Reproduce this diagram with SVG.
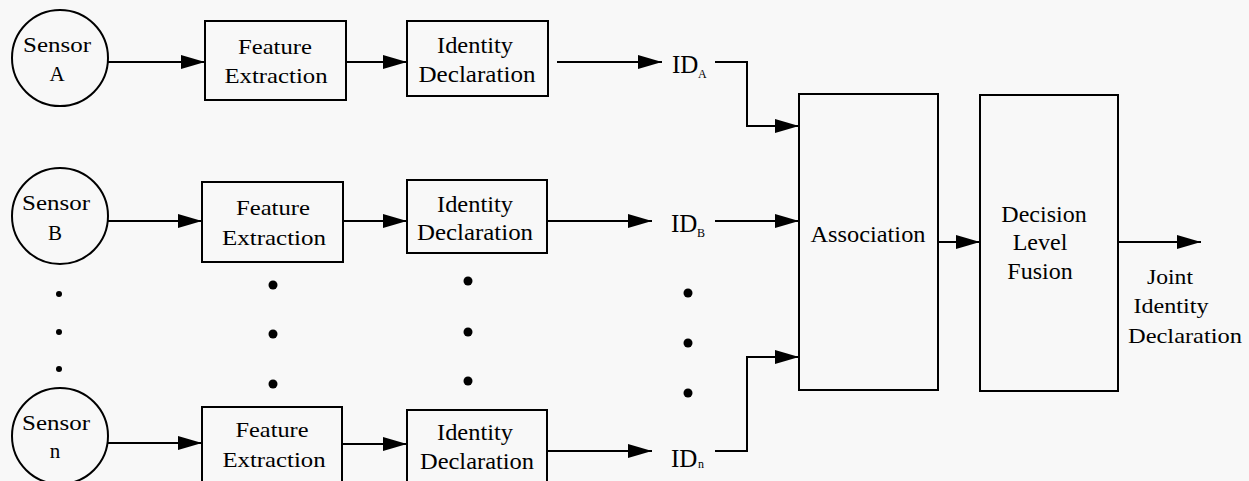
<svg xmlns="http://www.w3.org/2000/svg" width="1249" height="481" viewBox="0 0 1249 481">
  <defs>
    <marker id="arrow" markerUnits="userSpaceOnUse" markerWidth="24" markerHeight="14" refX="24" refY="7" orient="auto">
      <path d="M0,0 L24,7 L0,14 Z" fill="#000"/>
    </marker>
    <style>
      .bg { fill: #f8f8f8; }
      .box { fill: none; stroke: #000; stroke-width: 2; }
      .wire { fill: none; stroke: #000; stroke-width: 2; }
      .arrow { marker-end: url(#arrow); }
      .lbl { font-family: "Liberation Serif", "Times New Roman", serif; font-size: 24px; fill: #000; text-anchor: middle; }
      .sm { font-size: 21px; }
      .id { font-family: "Liberation Serif", "Times New Roman", serif; font-size: 25px; fill: #000; }
      .sub { font-family: "Liberation Serif", "Times New Roman", serif; font-size: 12px; fill: #000; }
      .dot { fill: #000; }
    </style>
  </defs>

  <rect class="bg" x="0" y="0" width="1249" height="481"/>

  <!-- sensors -->
  <g id="sensor-a">
    <circle class="box" cx="60" cy="58" r="48"/>
    <text class="lbl sm" x="57" y="52" textLength="68" lengthAdjust="spacingAndGlyphs">Sensor</text>
    <text class="lbl sm" x="57" y="81">A</text>
  </g>
  <g id="sensor-b">
    <circle class="box" cx="60" cy="216" r="48"/>
    <text class="lbl sm" x="56" y="210" textLength="68" lengthAdjust="spacingAndGlyphs">Sensor</text>
    <text class="lbl sm" x="55" y="240">B</text>
  </g>
  <g id="sensor-n">
    <circle class="box" cx="60" cy="436" r="48"/>
    <text class="lbl sm" x="56" y="430" textLength="68" lengthAdjust="spacingAndGlyphs">Sensor</text>
    <text class="lbl sm" x="55" y="458">n</text>
  </g>

  <!-- feature extraction -->
  <g id="feature-a">
    <rect class="box" x="205" y="21" width="141" height="79"/>
    <text class="lbl sm" x="275" y="54" textLength="74" lengthAdjust="spacingAndGlyphs">Feature</text>
    <text class="lbl sm" x="276" y="83" textLength="103" lengthAdjust="spacingAndGlyphs">Extraction</text>
  </g>
  <g id="feature-b">
    <rect class="box" x="202" y="182" width="141" height="80"/>
    <text class="lbl sm" x="273" y="215" textLength="74" lengthAdjust="spacingAndGlyphs">Feature</text>
    <text class="lbl sm" x="274" y="245" textLength="104" lengthAdjust="spacingAndGlyphs">Extraction</text>
  </g>
  <g id="feature-n">
    <rect class="box" x="202" y="407" width="140" height="80"/>
    <text class="lbl sm" x="272" y="437" textLength="73" lengthAdjust="spacingAndGlyphs">Feature</text>
    <text class="lbl sm" x="274" y="467" textLength="103" lengthAdjust="spacingAndGlyphs">Extraction</text>
  </g>

  <!-- identity declaration -->
  <g id="identity-a">
    <rect class="box" x="407" y="21" width="141" height="75"/>
    <text class="lbl" x="475" y="53" textLength="76" lengthAdjust="spacingAndGlyphs">Identity</text>
    <text class="lbl" x="477" y="82" textLength="117" lengthAdjust="spacingAndGlyphs">Declaration</text>
  </g>
  <g id="identity-b">
    <rect class="box" x="407" y="180" width="140" height="73"/>
    <text class="lbl" x="475" y="212" textLength="76" lengthAdjust="spacingAndGlyphs">Identity</text>
    <text class="lbl" x="475" y="240" textLength="116" lengthAdjust="spacingAndGlyphs">Declaration</text>
  </g>
  <g id="identity-n">
    <rect class="box" x="407" y="410" width="140" height="75"/>
    <text class="lbl" x="475" y="440" textLength="76" lengthAdjust="spacingAndGlyphs">Identity</text>
    <text class="lbl" x="477" y="469" textLength="114" lengthAdjust="spacingAndGlyphs">Declaration</text>
  </g>

  <!-- identity outputs -->
  <g id="id-a">
    <text class="id" x="672" y="73">ID</text>
    <text class="sub" x="698" y="78">A</text>
  </g>
  <g id="id-b">
    <text class="id" x="671" y="232">ID</text>
    <text class="sub" x="697" y="237">B</text>
  </g>
  <g id="id-n">
    <text class="id" x="671" y="467">ID</text>
    <text class="sub" x="698" y="468">n</text>
  </g>

  <!-- association and fusion -->
  <g id="association">
    <rect class="box" x="799" y="94" width="139" height="296"/>
    <text class="lbl" x="868" y="242" textLength="115" lengthAdjust="spacingAndGlyphs">Association</text>
  </g>
  <g id="decision-fusion">
    <rect class="box" x="980" y="95" width="138" height="296"/>
    <text class="lbl" x="1044" y="222">Decision</text>
    <text class="lbl" x="1040" y="250">Level</text>
    <text class="lbl" x="1040" y="279">Fusion</text>
  </g>
  <g id="joint-output">
    <text class="lbl sm" x="1170" y="284" textLength="46" lengthAdjust="spacingAndGlyphs">Joint</text>
    <text class="lbl sm" x="1171" y="313" textLength="75" lengthAdjust="spacingAndGlyphs">Identity</text>
    <text class="lbl sm" x="1185" y="343" textLength="114" lengthAdjust="spacingAndGlyphs">Declaration</text>
  </g>

  <!-- ellipsis dots -->
  <g id="ellipses">
    <circle class="dot" cx="59" cy="294" r="3"/>
    <circle class="dot" cx="59" cy="332" r="3"/>
    <circle class="dot" cx="59" cy="369" r="3"/>
    <circle class="dot" cx="273" cy="285" r="4.5"/>
    <circle class="dot" cx="273" cy="334" r="4.5"/>
    <circle class="dot" cx="273" cy="384" r="4.5"/>
    <circle class="dot" cx="468" cy="281" r="4.5"/>
    <circle class="dot" cx="468" cy="332" r="4.5"/>
    <circle class="dot" cx="468" cy="381" r="4.5"/>
    <circle class="dot" cx="688" cy="293" r="4.5"/>
    <circle class="dot" cx="688" cy="343" r="4.5"/>
    <circle class="dot" cx="688" cy="393" r="4.5"/>
  </g>

  <!-- connectors -->
  <g id="connectors">
    <line class="wire arrow" x1="108" y1="62" x2="205" y2="62"/>
    <line class="wire arrow" x1="346" y1="62" x2="407" y2="62"/>
    <line class="wire arrow" x1="557" y1="62" x2="662" y2="62"/>
    <path class="wire arrow" d="M715,62 H747 V126 H799"/>

    <line class="wire arrow" x1="108" y1="221" x2="202" y2="221"/>
    <line class="wire arrow" x1="343" y1="221" x2="407" y2="221"/>
    <line class="wire arrow" x1="547" y1="221" x2="652" y2="221"/>
    <line class="wire arrow" x1="715" y1="221" x2="799" y2="221"/>

    <line class="wire arrow" x1="108" y1="443" x2="202" y2="443"/>
    <line class="wire arrow" x1="342" y1="444" x2="407" y2="444"/>
    <line class="wire arrow" x1="547" y1="451" x2="652" y2="451"/>
    <path class="wire arrow" d="M715,451 H747 V357 H799"/>

    <line class="wire arrow" x1="938" y1="242" x2="980" y2="242"/>
    <line class="wire arrow" x1="1118" y1="242" x2="1201" y2="242"/>
  </g>
</svg>
